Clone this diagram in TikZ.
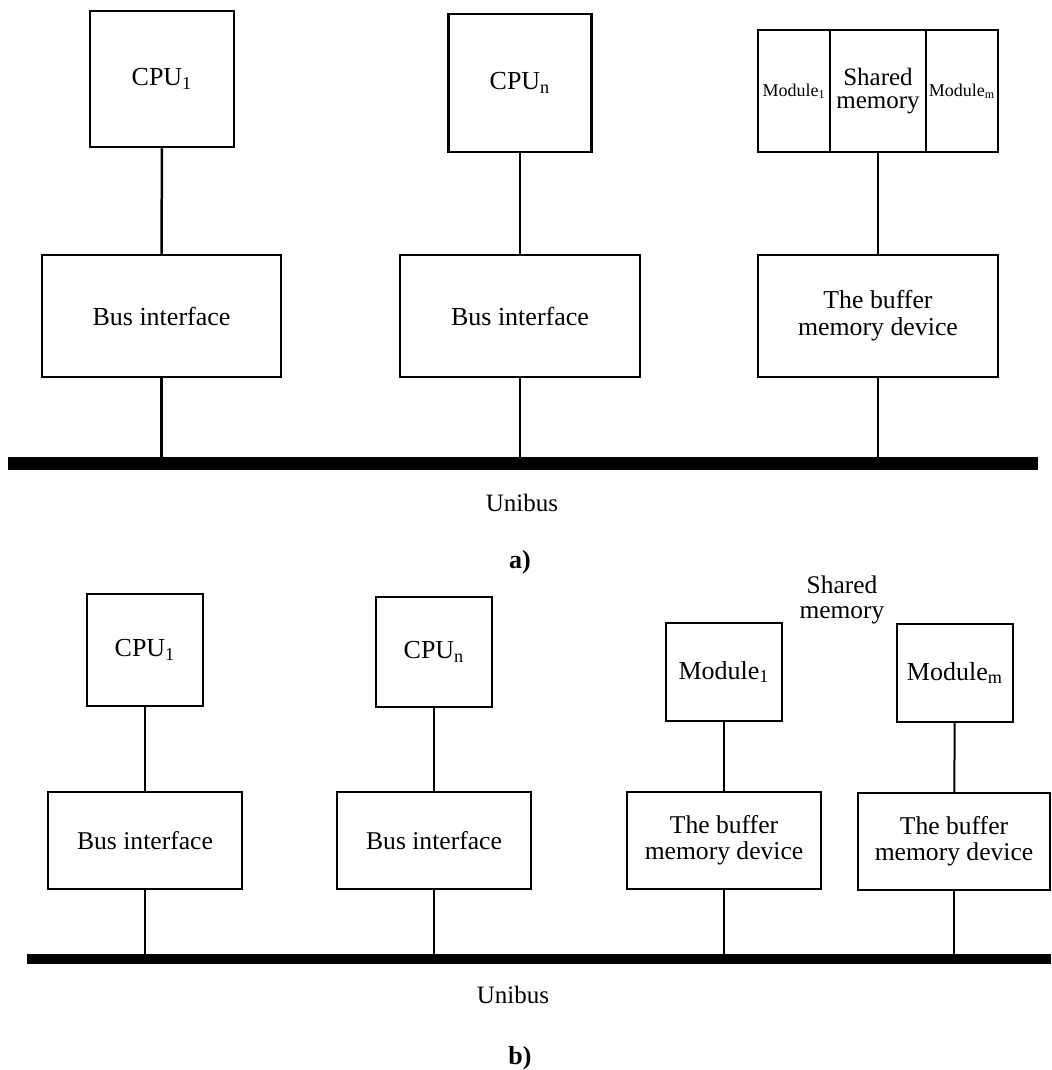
\documentclass[tikz,border=0pt]{standalone}
\usepackage{fontspec}
\setmainfont{Liberation Serif}
\newcommand{\fsz}[2]{\fontsize{#1}{#2}\selectfont}

\tikzset{
    boxa/.style={draw, line width=1.25pt, inner sep=0pt, align=center},
    boxb/.style={draw, line width=1pt, inner sep=0pt, align=center},
    wirea/.style={line width=1.25pt},
    wireb/.style={line width=1pt},
}

\begin{document}
\begin{tikzpicture}[x=0.5pt, y=-0.5pt]
    \useasboundingbox (0,0) rectangle (1051,1070);

    % a)
    \node[boxa, minimum width=72pt, minimum height=68pt, font=\fsz{13}{15}] (cpuA1) at (162,79) {CPU\textsubscript{1}};
    \node[boxa, minimum width=71.5pt, minimum height=69pt, font=\fsz{13}{15}] (cpuAn) at (520,83) {CPU\textsubscript{n}};
    \node[boxa, minimum width=36pt, minimum height=61pt, font=\fsz{9}{10}] (modA1) at (794,91) {Module\textsubscript{1}};
    \node[boxa, minimum width=48pt, minimum height=61pt, font=\fsz{12.5}{11.5}] (shmA) at (878,91) {Shared\\memory};
    \node[boxa, minimum width=36pt, minimum height=61pt, font=\fsz{9}{10}] (modAm) at (962,91) {Module\textsubscript{m}};
    \node[boxa, minimum width=119.5pt, minimum height=61pt, font=\fsz{13}{15}] (busA1) at (161.5,316) {Bus interface};
    \node[boxa, minimum width=120pt, minimum height=61pt, font=\fsz{13}{15}] (busAn) at (520,316) {Bus interface};
    \node[boxa, minimum width=120pt, minimum height=61pt, font=\fsz{12.9}{13.5}] (bufA) at (878,316) {The buffer\\memory device};
    \coordinate (unibusAL) at (8,463.5);
    \coordinate (unibusAR) at (1038,463.5);
    \draw[line width=6.5pt] (unibusAL) -- (unibusAR);
    \draw[wirea] (cpuA1) -- (busA1);
    \draw[wirea] (cpuAn) -- (busAn);
    \draw[wirea] (shmA) -- (bufA);
    \foreach \n in {busA1, busAn, bufA}
        \draw[wirea] (\n.south) -- (\n.south |- unibusAL);
    \node[font=\fsz{12.5}{14}] (unibusA) at (522,503) {Unibus};
    \node[font=\fsz{13}{15}\bfseries] (capA) at (520,562) {a)};

    % b)
    \node[boxb, minimum width=58pt, minimum height=56pt, font=\fsz{13}{15}] (cpuB1) at (145,650) {CPU\textsubscript{1}};
    \node[boxb, minimum width=58pt, minimum height=55pt, font=\fsz{13}{15}] (cpuBn) at (434,652) {CPU\textsubscript{n}};
    \node[boxb, minimum width=58pt, minimum height=49pt, font=\fsz{13}{15}] (modB1) at (724,672) {Module\textsubscript{1}};
    \node[boxb, minimum width=58pt, minimum height=49pt, font=\fsz{13}{15}] (modBm) at (955,673) {Module\textsubscript{m}};
    \node[font=\fsz{12.7}{12.5}, align=center] (shmB) at (842,600) {Shared\\memory};
    \node[boxb, minimum width=97pt, minimum height=48.5pt, font=\fsz{12.8}{15}] (busB1) at (145,840.5) {Bus interface};
    \node[boxb, minimum width=97pt, minimum height=48.5pt, font=\fsz{12.8}{15}] (busBn) at (434,840.5) {Bus interface};
    \node[boxb, minimum width=97pt, minimum height=48.5pt, font=\fsz{12.8}{13}] (bufB1) at (724,840.5) {The buffer\\memory device};
    \node[boxb, minimum width=96pt, minimum height=48.5pt, font=\fsz{12.8}{13}] (bufBm) at (954,841.5) {The buffer\\memory device};
    \coordinate (unibusBL) at (27,959);
    \coordinate (unibusBR) at (1051,959);
    \draw[line width=5pt] (unibusBL) -- (unibusBR);
    \draw[wireb] (cpuB1) -- (busB1);
    \draw[wireb] (cpuBn) -- (busBn);
    \draw[wireb] (modB1) -- (bufB1);
    \draw[wireb] (modBm) -- (bufBm);
    \foreach \n in {busB1, busBn, bufB1, bufBm}
        \draw[wireb] (\n.south) -- (\n.south |- unibusBL);
    \node[font=\fsz{12.5}{14}] (unibusB) at (513,995) {Unibus};
    \node[font=\fsz{13}{15}\bfseries] (capB) at (520,1058) {b)};
\end{tikzpicture}
\end{document}
